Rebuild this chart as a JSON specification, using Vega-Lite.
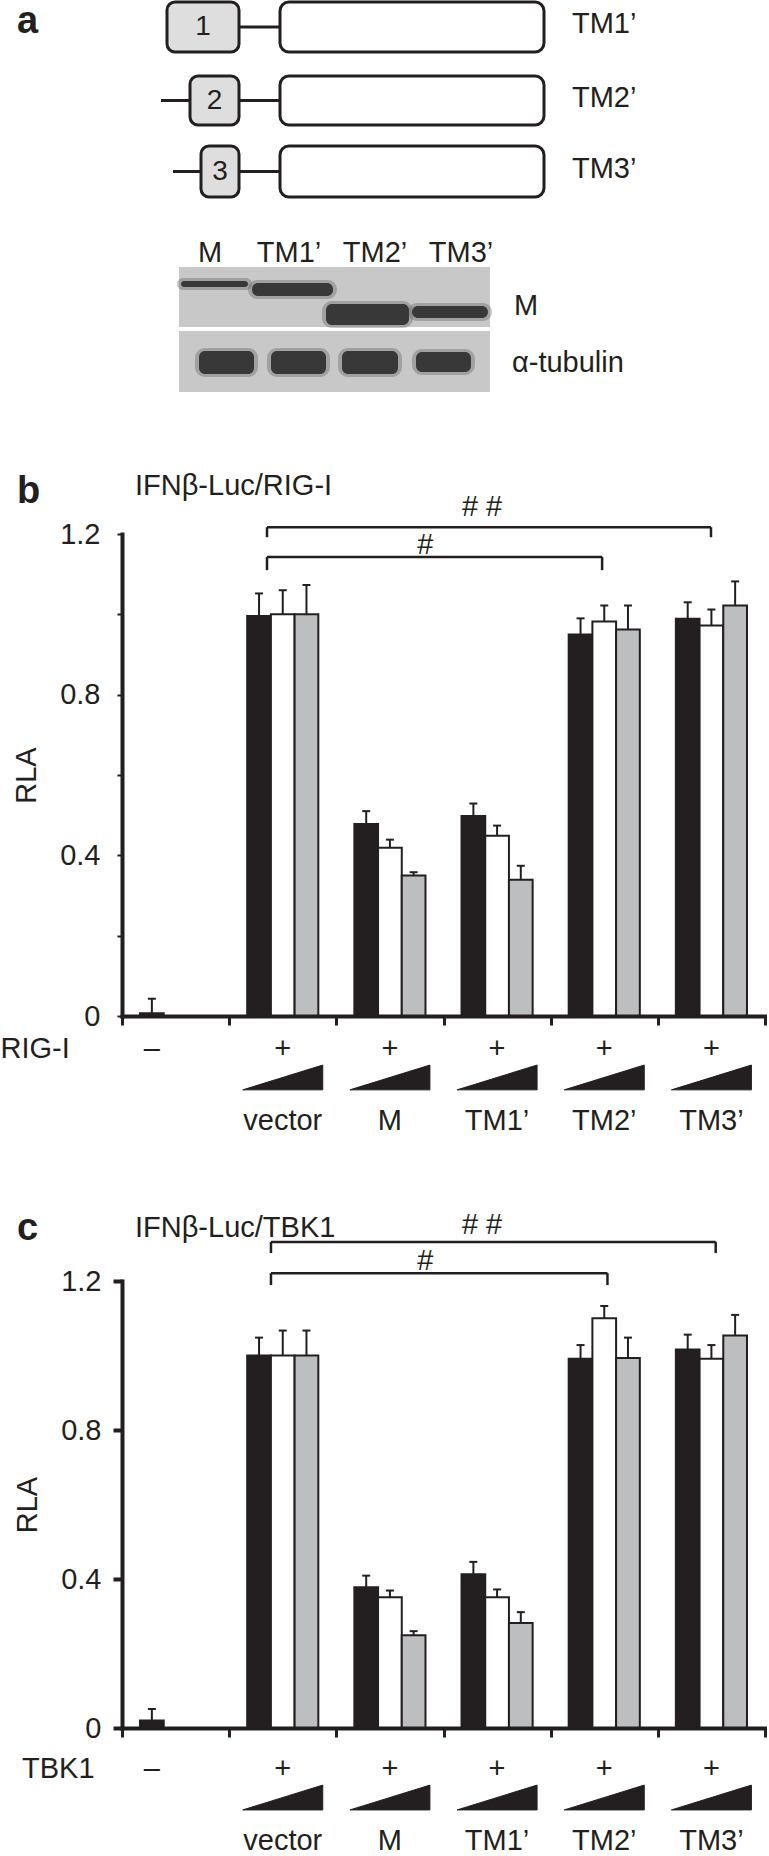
{
  "$schema": "https://vega.github.io/schema/vega-lite/v6.json",
  "padding": 0,
  "background": "white",
  "bounds": "flush",
  "spacing": 265,
  "config": {
    "view": {"stroke": null},
    "font": "Liberation Sans",
    "text": {"font": "Liberation Sans", "fontSize": 29, "color": "#231f20"},
    "axis": {"labelFont": "Liberation Sans", "titleFont": "Liberation Sans", "labelColor": "#231f20", "titleColor": "#231f20", "grid": false, "domainColor": "#231f20", "tickColor": "#231f20"}
  },
  "datasets": {
    "rigi": [
      {"grp": "ctrl", "dose": "low", "rla": 0.007, "upper": 0.043},
      {"grp": "vector", "dose": "low", "rla": 0.996, "upper": 1.052},
      {"grp": "vector", "dose": "mid", "rla": 1.0, "upper": 1.06},
      {"grp": "vector", "dose": "high", "rla": 1.0, "upper": 1.073},
      {"grp": "M", "dose": "low", "rla": 0.478, "upper": 0.51},
      {"grp": "M", "dose": "mid", "rla": 0.419, "upper": 0.439},
      {"grp": "M", "dose": "high", "rla": 0.35, "upper": 0.358},
      {"grp": "TM1’", "dose": "low", "rla": 0.498, "upper": 0.529},
      {"grp": "TM1’", "dose": "mid", "rla": 0.449, "upper": 0.474},
      {"grp": "TM1’", "dose": "high", "rla": 0.339, "upper": 0.374},
      {"grp": "TM2’", "dose": "low", "rla": 0.95, "upper": 0.99},
      {"grp": "TM2’", "dose": "mid", "rla": 0.982, "upper": 1.022},
      {"grp": "TM2’", "dose": "high", "rla": 0.962, "upper": 1.022},
      {"grp": "TM3’", "dose": "low", "rla": 0.989, "upper": 1.03},
      {"grp": "TM3’", "dose": "mid", "rla": 0.972, "upper": 1.012},
      {"grp": "TM3’", "dose": "high", "rla": 1.022, "upper": 1.082}
    ],
    "tbk1": [
      {"grp": "ctrl", "dose": "low", "rla": 0.02, "upper": 0.051},
      {"grp": "vector", "dose": "low", "rla": 1.0, "upper": 1.048},
      {"grp": "vector", "dose": "mid", "rla": 1.0, "upper": 1.067},
      {"grp": "vector", "dose": "high", "rla": 1.0, "upper": 1.067},
      {"grp": "M", "dose": "low", "rla": 0.378, "upper": 0.409},
      {"grp": "M", "dose": "mid", "rla": 0.351, "upper": 0.369},
      {"grp": "M", "dose": "high", "rla": 0.249, "upper": 0.26},
      {"grp": "TM1’", "dose": "low", "rla": 0.413, "upper": 0.446},
      {"grp": "TM1’", "dose": "mid", "rla": 0.351, "upper": 0.372},
      {"grp": "TM1’", "dose": "high", "rla": 0.282, "upper": 0.311},
      {"grp": "TM2’", "dose": "low", "rla": 0.991, "upper": 1.028},
      {"grp": "TM2’", "dose": "mid", "rla": 1.1, "upper": 1.133},
      {"grp": "TM2’", "dose": "high", "rla": 0.993, "upper": 1.048},
      {"grp": "TM3’", "dose": "low", "rla": 1.016, "upper": 1.056},
      {"grp": "TM3’", "dose": "mid", "rla": 0.991, "upper": 1.028},
      {"grp": "TM3’", "dose": "high", "rla": 1.054, "upper": 1.109}
    ],
    "signs": [
      {"grp": "ctrl", "dose": "low", "sign": "–"},
      {"grp": "vector", "dose": "mid", "sign": "+"},
      {"grp": "M", "dose": "mid", "sign": "+"},
      {"grp": "TM1’", "dose": "mid", "sign": "+"},
      {"grp": "TM2’", "dose": "mid", "sign": "+"},
      {"grp": "TM3’", "dose": "mid", "sign": "+"}
    ],
    "groups": [
      {"grp": "vector", "label": "vector"},
      {"grp": "M", "label": "M"},
      {"grp": "TM1’", "label": "TM1’"},
      {"grp": "TM2’", "label": "TM2’"},
      {"grp": "TM3’", "label": "TM3’"}
    ],
    "brackets_rigi": [
      {"from": 1.353, "to": 5.496, "top": 1.217, "foot": 1.192, "mark": "# #", "markAt": 3.36, "markY": 1.245},
      {"from": 1.353, "to": 4.48, "top": 1.143, "foot": 1.11, "mark": "#", "markAt": 2.83, "markY": 1.15}
    ],
    "brackets_tbk1": [
      {"from": 1.39, "to": 5.54, "top": 1.305, "foot": 1.275, "mark": "# #", "markAt": 3.36, "markY": 1.326},
      {"from": 1.39, "to": 4.53, "top": 1.221, "foot": 1.189, "mark": "#", "markAt": 2.83, "markY": 1.23}
    ],
    "heads_rigi": [
      {"role": "letter", "txt": "b", "at": -0.98, "y": 1.277},
      {"role": "title", "txt": "IFNβ-Luc/RIG-I", "at": 0.121, "y": 1.297},
      {"role": "row", "txt": "RIG-I", "at": -1.1337, "y": -0.105}
    ],
    "heads_tbk1": [
      {"role": "letter", "txt": "c", "at": -0.98, "y": 1.31},
      {"role": "title", "txt": "IFNβ-Luc/TBK1", "at": 0.121, "y": 1.318},
      {"role": "row", "txt": "TBK1", "at": -0.933, "y": -0.134}
    ],
    "tm_boxes": [
      {"construct": "TM1’", "num": "1", "x1": 45, "x2": 117, "y1": 2, "y2": 52},
      {"construct": "TM2’", "num": "2", "x1": 68, "x2": 117, "y1": 76, "y2": 125},
      {"construct": "TM3’", "num": "3", "x1": 79, "x2": 117, "y1": 146, "y2": 197}
    ],
    "bodies": [
      {"construct": "TM1’", "x1": 158, "x2": 422, "y1": 2, "y2": 52},
      {"construct": "TM2’", "x1": 158, "x2": 422, "y1": 76, "y2": 125},
      {"construct": "TM3’", "x1": 158, "x2": 422, "y1": 146, "y2": 197}
    ],
    "linkers": [
      {"construct": "TM1’", "x1": 117, "x2": 158, "y": 27},
      {"construct": "TM2’", "x1": 39, "x2": 68, "y": 100.5},
      {"construct": "TM2’", "x1": 117, "x2": 158, "y": 100.5},
      {"construct": "TM3’", "x1": 51, "x2": 79, "y": 171.5},
      {"construct": "TM3’", "x1": 117, "x2": 158, "y": 171.5}
    ],
    "blot_panels": [
      {"probe": "M", "x1": 57, "x2": 368, "y1": 267, "y2": 327},
      {"probe": "α-tubulin", "x1": 57, "x2": 368, "y1": 331, "y2": 392}
    ],
    "blot_bands": [
      {"lane": "M", "probe": "M", "x1": 59, "x2": 126, "y1": 281, "y2": 287},
      {"lane": "TM1’", "probe": "M", "x1": 130, "x2": 211, "y1": 283, "y2": 296},
      {"lane": "TM2’", "probe": "M", "x1": 204, "x2": 287, "y1": 304, "y2": 325},
      {"lane": "TM3’", "probe": "M", "x1": 290, "x2": 366, "y1": 306, "y2": 318},
      {"lane": "M", "probe": "α-tubulin", "x1": 77, "x2": 132, "y1": 351, "y2": 374},
      {"lane": "TM1’", "probe": "α-tubulin", "x1": 149, "x2": 204, "y1": 351, "y2": 374},
      {"lane": "TM2’", "probe": "α-tubulin", "x1": 220, "x2": 276, "y1": 351, "y2": 374},
      {"lane": "TM3’", "probe": "α-tubulin", "x1": 294, "x2": 349, "y1": 352, "y2": 372}
    ],
    "lanes": [
      {"lane": "M", "x": 88},
      {"lane": "TM1’", "x": 167},
      {"lane": "TM2’", "x": 253},
      {"lane": "TM3’", "x": 339}
    ],
    "probes": [
      {"probe": "M", "x": 392, "y": 315},
      {"probe": "α-tubulin", "x": 390, "y": 372}
    ],
    "letter_a": [{"txt": "a", "x": -105, "y": 33}]
  },
  "vconcat": [
    {
      "width": 643,
      "height": 269,
      "layer": [
        {
          "data": {"name": "linkers"},
          "mark": {"type": "rule", "strokeWidth": 3, "color": "#231f20"},
          "encoding": {
            "x": {"field": "x1", "type": "quantitative", "scale": {"domain": [0, 643], "nice": false, "zero": false}, "axis": null},
            "x2": {"field": "x2"},
            "y": {"field": "y", "type": "quantitative", "scale": {"domain": [0, 269], "reverse": true, "nice": false, "zero": false}, "axis": null}
          }
        },
        {
          "data": {"name": "tm_boxes"},
          "mark": {"type": "rect", "fill": "#dedede", "stroke": "#231f20", "strokeWidth": 3, "cornerRadius": 8},
          "encoding": {
            "x": {"field": "x1", "type": "quantitative", "scale": {"domain": [0, 643], "nice": false, "zero": false}, "axis": null},
            "x2": {"field": "x2"},
            "y": {"field": "y1", "type": "quantitative", "scale": {"domain": [0, 269], "reverse": true, "nice": false, "zero": false}, "axis": null},
            "y2": {"field": "y2"}
          }
        },
        {
          "data": {"name": "bodies"},
          "mark": {"type": "rect", "fill": "#ffffff", "stroke": "#231f20", "strokeWidth": 3, "cornerRadius": 9},
          "encoding": {
            "x": {"field": "x1", "type": "quantitative", "scale": {"domain": [0, 643], "nice": false, "zero": false}, "axis": null},
            "x2": {"field": "x2"},
            "y": {"field": "y1", "type": "quantitative", "scale": {"domain": [0, 269], "reverse": true, "nice": false, "zero": false}, "axis": null},
            "y2": {"field": "y2"}
          }
        },
        {
          "data": {"name": "tm_boxes"},
          "transform": [
            {"calculate": "(datum.x1 + datum.x2) / 2", "as": "xc"},
            {"calculate": "(datum.y1 + datum.y2) / 2", "as": "yc"}
          ],
          "mark": {"type": "text", "fontSize": 28, "baseline": "middle", "align": "center"},
          "encoding": {
            "x": {"field": "xc", "type": "quantitative", "scale": {"domain": [0, 643], "nice": false, "zero": false}, "axis": null},
            "y": {"field": "yc", "type": "quantitative", "scale": {"domain": [0, 269], "reverse": true, "nice": false, "zero": false}, "axis": null},
            "text": {"field": "num"}
          }
        },
        {
          "data": {"name": "bodies"},
          "transform": [{"calculate": "(datum.y1 + datum.y2) / 2 - 3", "as": "yc"}],
          "mark": {"type": "text", "fontSize": 29, "baseline": "middle", "align": "left"},
          "encoding": {
            "x": {"datum": 450, "type": "quantitative", "scale": {"domain": [0, 643], "nice": false, "zero": false}, "axis": null},
            "y": {"field": "yc", "type": "quantitative", "scale": {"domain": [0, 269], "reverse": true, "nice": false, "zero": false}, "axis": null},
            "text": {"field": "construct"}
          }
        },
        {
          "data": {"name": "blot_panels"},
          "mark": {"type": "rect", "fill": "#c8c8c8"},
          "encoding": {
            "x": {"field": "x1", "type": "quantitative", "scale": {"domain": [0, 643], "nice": false, "zero": false}, "axis": null},
            "x2": {"field": "x2"},
            "y": {"field": "y1", "type": "quantitative", "scale": {"domain": [0, 269], "reverse": true, "nice": false, "zero": false}, "axis": null},
            "y2": {"field": "y2"}
          }
        },
        {
          "data": {"name": "blot_bands"},
          "transform": [
            {"calculate": "datum.x1 - 4", "as": "hx1"},
            {"calculate": "datum.x2 + 4", "as": "hx2"},
            {"calculate": "datum.y1 - 3", "as": "hy1"},
            {"calculate": "datum.y2 + 3", "as": "hy2"}
          ],
          "mark": {"type": "rect", "fill": "#5a5a5a", "cornerRadius": 10, "opacity": 0.35},
          "encoding": {
            "x": {"field": "hx1", "type": "quantitative", "scale": {"domain": [0, 643], "nice": false, "zero": false}, "axis": null},
            "x2": {"field": "hx2"},
            "y": {"field": "hy1", "type": "quantitative", "scale": {"domain": [0, 269], "reverse": true, "nice": false, "zero": false}, "axis": null},
            "y2": {"field": "hy2"}
          }
        },
        {
          "data": {"name": "blot_bands"},
          "mark": {"type": "rect", "fill": "#333333", "cornerRadius": 6, "opacity": 0.95},
          "encoding": {
            "x": {"field": "x1", "type": "quantitative", "scale": {"domain": [0, 643], "nice": false, "zero": false}, "axis": null},
            "x2": {"field": "x2"},
            "y": {"field": "y1", "type": "quantitative", "scale": {"domain": [0, 269], "reverse": true, "nice": false, "zero": false}, "axis": null},
            "y2": {"field": "y2"}
          }
        },
        {
          "data": {"name": "lanes"},
          "mark": {"type": "text", "fontSize": 29, "baseline": "alphabetic", "align": "center"},
          "encoding": {
            "x": {"field": "x", "type": "quantitative", "scale": {"domain": [0, 643], "nice": false, "zero": false}, "axis": null},
            "y": {"datum": 262, "type": "quantitative", "scale": {"domain": [0, 269], "reverse": true, "nice": false, "zero": false}, "axis": null},
            "text": {"field": "lane"}
          }
        },
        {
          "data": {"name": "probes"},
          "mark": {"type": "text", "fontSize": 29, "baseline": "alphabetic", "align": "left"},
          "encoding": {
            "x": {"field": "x", "type": "quantitative", "scale": {"domain": [0, 643], "nice": false, "zero": false}, "axis": null},
            "y": {"field": "y", "type": "quantitative", "scale": {"domain": [0, 269], "reverse": true, "nice": false, "zero": false}, "axis": null},
            "text": {"field": "probe"}
          }
        },
        {
          "data": {"name": "letter_a"},
          "mark": {"type": "text", "fontSize": 38, "fontWeight": "bold", "baseline": "alphabetic", "align": "left"},
          "encoding": {
            "x": {"field": "x", "type": "quantitative", "scale": {"domain": [0, 643], "nice": false, "zero": false}, "axis": null},
            "y": {"field": "y", "type": "quantitative", "scale": {"domain": [0, 269], "reverse": true, "nice": false, "zero": false}, "axis": null},
            "text": {"field": "txt"}
          }
        }
      ]
    },
    {
      "width": 643,
      "height": 482,
      "resolve": {"scale": {"x": "independent"}},
      "layer": [
        {
          "layer": [
            {
              "data": {"name": "rigi"},
              "mark": {"type": "bar", "stroke": "#231f20", "strokeWidth": 2},
              "encoding": {
                "x": {"field": "grp", "type": "nominal", "scale": {"domain": ["ctrl", "vector", "M", "TM1’", "TM2’", "TM3’"], "paddingInner": 0, "paddingOuter": 0}, "axis": {"title": null, "labels": false, "tickBand": "extent", "tickSize": 9, "tickWidth": 3, "domainWidth": 4, "domainCap": "square", "zindex": 1}},
                "xOffset": {"field": "dose", "type": "nominal", "scale": {"domain": ["low", "mid", "high"], "paddingInner": 0, "paddingOuter": 0.76}},
                "y": {"field": "rla", "type": "quantitative", "scale": {"domain": [0, 1.2], "nice": false}, "axis": {"title": "RLA", "titleFontSize": 29, "titleFontWeight": "normal", "titlePadding": 18, "values": [0, 0.2, 0.4, 0.6, 0.8, 1, 1.2], "format": "~g", "labelExpr": "datum.value == 0 || datum.value == 0.4 || datum.value == 0.8 || datum.value == 1.2 ? datum.label : ''", "labelFontSize": 29, "labelPadding": 17, "labelFlush": false, "labelOverlap": false, "tickSize": 5, "tickWidth": 2, "domainWidth": 4, "domainCap": "square", "zindex": 1}},
                "fill": {"field": "dose", "type": "nominal", "scale": {"domain": ["low", "mid", "high"], "range": ["#231f20", "#ffffff", "#bcbec0"]}, "legend": null}
              }
            },
            {
              "data": {"name": "rigi"},
              "mark": {"type": "rule", "strokeWidth": 2, "color": "#231f20"},
              "encoding": {
                "x": {"field": "grp", "type": "nominal"},
                "xOffset": {"field": "dose", "type": "nominal"},
                "y": {"field": "rla", "type": "quantitative"},
                "y2": {"field": "upper"}
              }
            },
            {
              "data": {"name": "rigi"},
              "mark": {"type": "tick", "orient": "horizontal", "size": 8, "thickness": 2, "color": "#231f20", "opacity": 1},
              "encoding": {
                "x": {"field": "grp", "type": "nominal"},
                "xOffset": {"field": "dose", "type": "nominal"},
                "y": {"field": "upper", "type": "quantitative"}
              }
            },
            {
              "data": {"name": "signs"},
              "mark": {"type": "text", "fontSize": 29, "baseline": "alphabetic"},
              "encoding": {
                "x": {"field": "grp", "type": "nominal"},
                "xOffset": {"field": "dose", "type": "nominal"},
                "y": {"datum": -0.105, "type": "quantitative"},
                "text": {"field": "sign"}
              }
            },
            {
              "data": {"name": "groups"},
              "mark": {"type": "point", "shape": "M-1,0.31L1,-0.31L1,0.31Z", "size": 6400, "filled": true, "fill": "#231f20", "stroke": "#231f20", "strokeWidth": 1, "opacity": 1},
              "encoding": {
                "x": {"field": "grp", "type": "nominal"},
                "y": {"datum": -0.153, "type": "quantitative"}
              }
            },
            {
              "data": {"name": "groups"},
              "mark": {"type": "text", "fontSize": 29, "baseline": "alphabetic"},
              "encoding": {
                "x": {"field": "grp", "type": "nominal"},
                "y": {"datum": -0.284, "type": "quantitative"},
                "text": {"field": "label"}
              }
            }
          ]
        },
        {
          "layer": [
            {
              "data": {"name": "brackets_rigi"},
              "mark": {"type": "rule", "strokeWidth": 2.5, "color": "#231f20"},
              "encoding": {
                "x": {"field": "from", "type": "quantitative", "scale": {"domain": [0, 6], "nice": false, "zero": false}, "axis": null},
                "x2": {"field": "to"},
                "y": {"field": "top", "type": "quantitative", "scale": {"domain": [0, 1.2], "nice": false}}
              }
            },
            {
              "data": {"name": "brackets_rigi"},
              "mark": {"type": "rule", "strokeWidth": 2.5, "color": "#231f20"},
              "encoding": {
                "x": {"field": "from", "type": "quantitative", "axis": null},
                "y": {"field": "top", "type": "quantitative"},
                "y2": {"field": "foot"}
              }
            },
            {
              "data": {"name": "brackets_rigi"},
              "mark": {"type": "rule", "strokeWidth": 2.5, "color": "#231f20"},
              "encoding": {
                "x": {"field": "to", "type": "quantitative", "axis": null},
                "y": {"field": "top", "type": "quantitative"},
                "y2": {"field": "foot"}
              }
            },
            {
              "data": {"name": "brackets_rigi"},
              "mark": {"type": "text", "fontSize": 29, "baseline": "alphabetic", "align": "center"},
              "encoding": {
                "x": {"field": "markAt", "type": "quantitative", "axis": null},
                "y": {"field": "markY", "type": "quantitative"},
                "text": {"field": "mark"}
              }
            },
            {
              "data": {"name": "heads_rigi"},
              "transform": [{"filter": "datum.role == 'letter'"}],
              "mark": {"type": "text", "fontSize": 38, "fontWeight": "bold", "baseline": "alphabetic", "align": "left"},
              "encoding": {
                "x": {"field": "at", "type": "quantitative", "axis": null},
                "y": {"field": "y", "type": "quantitative"},
                "text": {"field": "txt"}
              }
            },
            {
              "data": {"name": "heads_rigi"},
              "transform": [{"filter": "datum.role != 'letter'"}],
              "mark": {"type": "text", "fontSize": 29, "baseline": "alphabetic", "align": "left"},
              "encoding": {
                "x": {"field": "at", "type": "quantitative", "axis": null},
                "y": {"field": "y", "type": "quantitative"},
                "text": {"field": "txt"}
              }
            }
          ]
        }
      ]
    },
    {
      "width": 643,
      "height": 447,
      "resolve": {"scale": {"x": "independent"}},
      "layer": [
        {
          "layer": [
            {
              "data": {"name": "tbk1"},
              "mark": {"type": "bar", "stroke": "#231f20", "strokeWidth": 2},
              "encoding": {
                "x": {"field": "grp", "type": "nominal", "scale": {"domain": ["ctrl", "vector", "M", "TM1’", "TM2’", "TM3’"], "paddingInner": 0, "paddingOuter": 0}, "axis": {"title": null, "labels": false, "tickBand": "extent", "tickSize": 9, "tickWidth": 3, "domainWidth": 4, "domainCap": "square", "zindex": 1}},
                "xOffset": {"field": "dose", "type": "nominal", "scale": {"domain": ["low", "mid", "high"], "paddingInner": 0, "paddingOuter": 0.76}},
                "y": {"field": "rla", "type": "quantitative", "scale": {"domain": [0, 1.2], "nice": false}, "axis": {"title": "RLA", "titleFontSize": 29, "titleFontWeight": "normal", "titlePadding": 18, "values": [0, 0.4, 0.8, 1.2], "format": "~g", "labelFontSize": 29, "labelPadding": 12, "labelFlush": false, "labelOverlap": false, "tickSize": 9, "tickWidth": 4, "domainWidth": 4, "domainCap": "square", "zindex": 1}},
                "fill": {"field": "dose", "type": "nominal", "scale": {"domain": ["low", "mid", "high"], "range": ["#231f20", "#ffffff", "#bcbec0"]}, "legend": null}
              }
            },
            {
              "data": {"name": "tbk1"},
              "mark": {"type": "rule", "strokeWidth": 2, "color": "#231f20"},
              "encoding": {
                "x": {"field": "grp", "type": "nominal"},
                "xOffset": {"field": "dose", "type": "nominal"},
                "y": {"field": "rla", "type": "quantitative"},
                "y2": {"field": "upper"}
              }
            },
            {
              "data": {"name": "tbk1"},
              "mark": {"type": "tick", "orient": "horizontal", "size": 8, "thickness": 2, "color": "#231f20", "opacity": 1},
              "encoding": {
                "x": {"field": "grp", "type": "nominal"},
                "xOffset": {"field": "dose", "type": "nominal"},
                "y": {"field": "upper", "type": "quantitative"}
              }
            },
            {
              "data": {"name": "signs"},
              "mark": {"type": "text", "fontSize": 29, "baseline": "alphabetic"},
              "encoding": {
                "x": {"field": "grp", "type": "nominal"},
                "xOffset": {"field": "dose", "type": "nominal"},
                "y": {"datum": -0.134, "type": "quantitative"},
                "text": {"field": "sign"}
              }
            },
            {
              "data": {"name": "groups"},
              "mark": {"type": "point", "shape": "M-1,0.31L1,-0.31L1,0.31Z", "size": 6400, "filled": true, "fill": "#231f20", "stroke": "#231f20", "strokeWidth": 1, "opacity": 1},
              "encoding": {
                "x": {"field": "grp", "type": "nominal"},
                "y": {"datum": -0.1866, "type": "quantitative"}
              }
            },
            {
              "data": {"name": "groups"},
              "mark": {"type": "text", "fontSize": 29, "baseline": "alphabetic"},
              "encoding": {
                "x": {"field": "grp", "type": "nominal"},
                "y": {"datum": -0.3275, "type": "quantitative"},
                "text": {"field": "label"}
              }
            }
          ]
        },
        {
          "layer": [
            {
              "data": {"name": "brackets_tbk1"},
              "mark": {"type": "rule", "strokeWidth": 2.5, "color": "#231f20"},
              "encoding": {
                "x": {"field": "from", "type": "quantitative", "scale": {"domain": [0, 6], "nice": false, "zero": false}, "axis": null},
                "x2": {"field": "to"},
                "y": {"field": "top", "type": "quantitative", "scale": {"domain": [0, 1.2], "nice": false}}
              }
            },
            {
              "data": {"name": "brackets_tbk1"},
              "mark": {"type": "rule", "strokeWidth": 2.5, "color": "#231f20"},
              "encoding": {
                "x": {"field": "from", "type": "quantitative", "axis": null},
                "y": {"field": "top", "type": "quantitative"},
                "y2": {"field": "foot"}
              }
            },
            {
              "data": {"name": "brackets_tbk1"},
              "mark": {"type": "rule", "strokeWidth": 2.5, "color": "#231f20"},
              "encoding": {
                "x": {"field": "to", "type": "quantitative", "axis": null},
                "y": {"field": "top", "type": "quantitative"},
                "y2": {"field": "foot"}
              }
            },
            {
              "data": {"name": "brackets_tbk1"},
              "mark": {"type": "text", "fontSize": 29, "baseline": "alphabetic", "align": "center"},
              "encoding": {
                "x": {"field": "markAt", "type": "quantitative", "axis": null},
                "y": {"field": "markY", "type": "quantitative"},
                "text": {"field": "mark"}
              }
            },
            {
              "data": {"name": "heads_tbk1"},
              "transform": [{"filter": "datum.role == 'letter'"}],
              "mark": {"type": "text", "fontSize": 38, "fontWeight": "bold", "baseline": "alphabetic", "align": "left"},
              "encoding": {
                "x": {"field": "at", "type": "quantitative", "axis": null},
                "y": {"field": "y", "type": "quantitative"},
                "text": {"field": "txt"}
              }
            },
            {
              "data": {"name": "heads_tbk1"},
              "transform": [{"filter": "datum.role != 'letter'"}],
              "mark": {"type": "text", "fontSize": 29, "baseline": "alphabetic", "align": "left"},
              "encoding": {
                "x": {"field": "at", "type": "quantitative", "axis": null},
                "y": {"field": "y", "type": "quantitative"},
                "text": {"field": "txt"}
              }
            }
          ]
        }
      ]
    }
  ]
}
